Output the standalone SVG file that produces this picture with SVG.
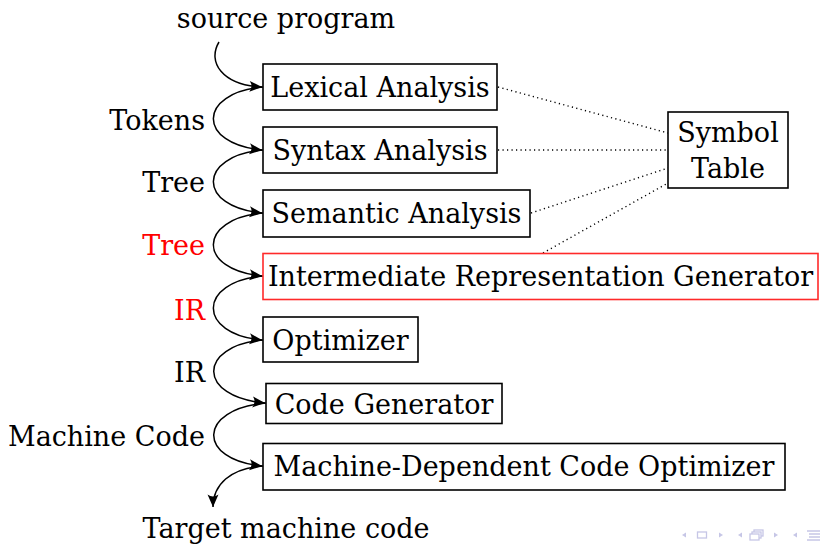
<svg xmlns="http://www.w3.org/2000/svg" width="820" height="544" viewBox="0 0 820 544">
<style>
text{font-family:"DejaVu Serif","Liberation Serif",serif;font-size:27px;fill:#000}
.red{fill:#ff0000}
.box{fill:#fff;stroke:#000;stroke-width:1.6}
.rbox{fill:#fff;stroke:#ff2a2a;stroke-width:1.6}
.flow{fill:none;stroke:#000;stroke-width:1.5}
.dot{fill:none;stroke:#000;stroke-width:1.4;stroke-dasharray:1.2 3.3}
.nav{fill:#c6c6e6;stroke:none}
.navs{fill:none;stroke:#c6c6e6;stroke-width:1.3}
.navw{fill:#fff;stroke:#c6c6e6;stroke-width:1.3}
</style>
<defs>
<marker id="ah" markerUnits="userSpaceOnUse" markerWidth="16" markerHeight="14" viewBox="-14 -7 16 14" refX="0" refY="0" orient="auto">
<path d="M0,0 L-12.5,-5.5 Q-8.5,0 -12.5,5.5 Z" fill="#000"/>
</marker>
</defs>
<g id="connectors">
<path class="flow" d="M219 42 C207 62,222 85,262 87" marker-end="url(#ah)"/>
<path class="flow" d="M263 87 C197 93,197 144,262 150" marker-end="url(#ah)"/>
<path class="flow" d="M263 150 C197 156,197 207,262 213" marker-end="url(#ah)"/>
<path class="flow" d="M263 213 C197 219,197 270,262 276" marker-end="url(#ah)"/>
<path class="flow" d="M263 276 C197 282,197 334,262 340" marker-end="url(#ah)"/>
<path class="flow" d="M263 340 C197 346,197 397,265 403" marker-end="url(#ah)"/>
<path class="flow" d="M266 403 C197 409,197 460,262 466" marker-end="url(#ah)"/>
<path class="flow" d="M263 466 C230 468,213 485,213 507" marker-end="url(#ah)"/>
<path class="dot" d="M498 87 L668 133"/>
<path class="dot" d="M498 150 L668 150"/>
<path class="dot" d="M531 213 L668 168"/>
<path class="dot" d="M543 253 L668 183"/>
</g>
<g id="lexical">
<rect class="box" x="263" y="64" width="234" height="46"/>
<text x="380" y="96.5" text-anchor="middle">Lexical Analysis</text>
</g>
<g id="syntax">
<rect class="box" x="263" y="127" width="234" height="46"/>
<text x="380" y="159.5" text-anchor="middle">Syntax Analysis</text>
</g>
<g id="semantic">
<rect class="box" x="263" y="190" width="267" height="47"/>
<text x="396.5" y="222.5" text-anchor="middle">Semantic Analysis</text>
</g>
<g id="irgen">
<rect class="rbox" x="263" y="253.5" width="555" height="46"/>
<text x="540.5" y="285.5" text-anchor="middle">Intermediate Representation Generator</text>
</g>
<g id="optimizer">
<rect class="box" x="263" y="317" width="155" height="45"/>
<text x="340.5" y="349.5" text-anchor="middle">Optimizer</text>
</g>
<g id="codegen">
<rect class="box" x="266" y="383.5" width="236" height="40"/>
<text x="384" y="413.5" text-anchor="middle">Code Generator</text>
</g>
<g id="mdopt">
<rect class="box" x="263" y="443.5" width="522" height="46.5"/>
<text x="524" y="476" text-anchor="middle">Machine-Dependent Code Optimizer</text>
</g>
<g id="symtab">
<rect class="box" x="668" y="112" width="120" height="76"/>
<text x="728" y="142" text-anchor="middle">Symbol</text>
<text x="728" y="178" text-anchor="middle">Table</text>
</g>
<g id="labels">
<text x="286" y="28" text-anchor="middle">source program</text>
<text x="205" y="130" text-anchor="end">Tokens</text>
<text x="205" y="192" text-anchor="end">Tree</text>
<text x="205" y="255" text-anchor="end" class="red">Tree</text>
<text x="205" y="319.5" text-anchor="end" class="red">IR</text>
<text x="205" y="382" text-anchor="end">IR</text>
<text x="205" y="446" text-anchor="end">Machine Code</text>
<text x="286" y="538" text-anchor="middle">Target machine code</text>
</g>
<g id="navigation">
<path class="nav" d="M682 535 L686 532.5 L686 537.5 Z"/>
<rect class="navs" x="697.5" y="532" width="9" height="6"/>
<path class="nav" d="M723 535 L719 532.5 L719 537.5 Z"/>
<path class="nav" d="M738 535 L742 532.5 L742 537.5 Z"/>
<rect class="navw" x="754" y="530" width="9" height="6"/>
<rect class="navw" x="752" y="532" width="9" height="6"/>
<rect class="navw" x="750" y="534" width="9" height="6"/>
<path class="nav" d="M778 535 L774 532.5 L774 537.5 Z"/>
<path class="nav" d="M793 535 L797 532.5 L797 537.5 Z"/>
<path class="navs" d="M807 531 H820 M809 534 H820 M809 537 H820 M807 540 H820"/>
</g>
</svg>
